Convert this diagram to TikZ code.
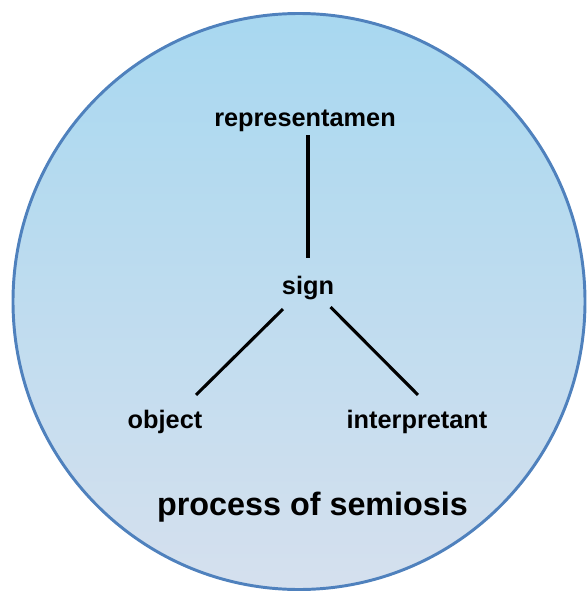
\documentclass[tikz,border=0pt]{standalone}
\usepackage{xcolor}
\usepackage{fontspec}
\setmainfont{Liberation Sans}

\definecolor{borde}{RGB}{79,129,189}
\definecolor{cielo}{RGB}{168,216,240}
\definecolor{niebla}{RGB}{213,224,238}

\tikzset{
  etiqueta/.style={font=\fontsize{18}{20}\selectfont\bfseries, inner sep=0pt, anchor=base},
  titulo/.style={font=\fontsize{23}{26}\selectfont\bfseries, inner sep=0pt, anchor=base},
  enlace/.style={line width=2.2pt, black}
}

\begin{document}
\begin{tikzpicture}[x=0.025cm, y=-0.025cm]
        \useasboundingbox (0,0) rectangle (586,592);

        % Paso 1: Dibuja el círculo con degradado azul
        \shade[top color=cielo, bottom color=niebla, draw=borde, line width=2.1pt]
          (299,301.5) ellipse [x radius=286, y radius=288];

        % Paso 2: Coloca los nombres de los elementos
        \node[etiqueta] (representamen) at (305,126) {representamen};
        \node[etiqueta] (sign) at (308,294) {sign};
        \node[etiqueta] (object) at (165,428) {object};
        \node[etiqueta] (interpretant) at (417,428) {interpretant};

        % Paso 3: Une los elementos con segmentos
        \draw[enlace, shorten <=12.5pt, shorten >=2.5pt] (sign.north) -- (sign.north |- representamen.south);
        \draw[enlace] ([shift={(-25,21.5)}]sign.center) -- ([shift={(31,-26.5)}]object.center);
        \draw[enlace] ([shift={(22.5,19.5)}]sign.center) -- ([shift={(1,-26.5)}]interpretant.center);

        % Paso 4: Coloca una leyenda debajo de la figura
        \node[titulo] (proceso) at (312.5,515) {process of semiosis};
\end{tikzpicture}
\end{document}
